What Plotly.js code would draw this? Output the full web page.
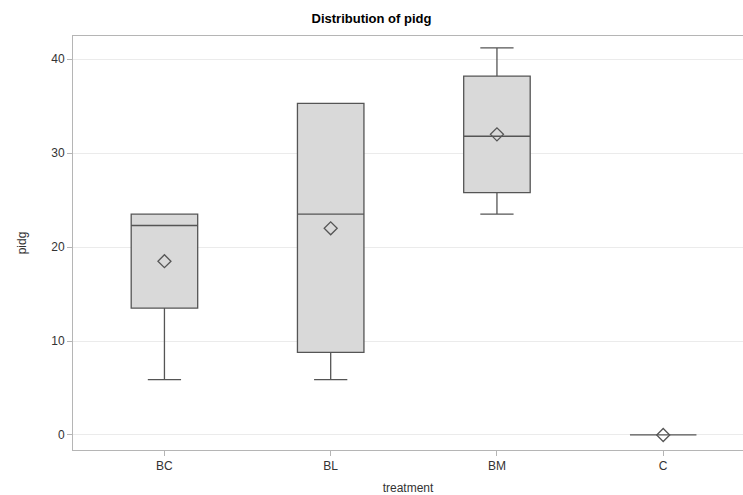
<!DOCTYPE html>
<html><head><meta charset="utf-8">
<script src="https://cdn.plot.ly/plotly-3.0.1.min.js"></script>
<style>html,body{margin:0;padding:0;background:#fff}#chart{width:743px;height:495px}</style>
</head><body><div id="chart"></div>
<script>
var categories = ["BC", "BL", "BM", "C"];
var lowerWhisker = [5.9, 5.9, 23.5, 0];
var q1Values = [13.5, 8.8, 25.8, 0];
var medianValues = [22.3, 23.5, 31.8, 0];
var q3Values = [23.5, 35.3, 38.2, 0];
var upperWhisker = [23.5, 35.3, 41.2, 0];
var meanValues = [18.5, 22.0, 32.0, 0];
var yTicks = [0, 10, 20, 30, 40];

var boxTrace = {
  type: "box",
  x: categories,
  q1: q1Values,
  median: medianValues,
  q3: q3Values,
  lowerfence: lowerWhisker,
  upperfence: upperWhisker,
  width: 0.4,
  whiskerwidth: 0.5,
  fillcolor: "#d9d9d9",
  line: {color: "#555555", width: 1.3},
  boxpoints: false,
  hoverinfo: "skip",
  showlegend: false
};
var meanTrace = {
  type: "scatter",
  mode: "markers",
  x: categories,
  y: meanValues,
  marker: {symbol: "diamond-open", size: 10, color: "#555555", line: {width: 1.3, color: "#555555"}},
  hoverinfo: "skip",
  showlegend: false
};
var layout = {
  width: 743, height: 495,
  margin: {l: 73, r: 0, t: 36, b: 45},
  paper_bgcolor: "#fff", plot_bgcolor: "#fff",
  font: {family: "Liberation Sans, Arial, sans-serif", size: 12, color: "#333"},
  title: {text: "<b>Distribution of pidg</b>", x: 0.5, xanchor: "center", y: 0.962, yanchor: "middle",
          font: {size: 13, color: "#000", family: "Liberation Sans, Arial, sans-serif"}},
  xaxis: {
    type: "category", range: [-0.55, 3.48],
    showline: true, mirror: true, linecolor: "#b5b5b5", linewidth: 1,
    ticks: "outside", ticklen: 5, tickcolor: "#b5b5b5",
    showgrid: false, zeroline: false,
    tickfont: {size: 12, color: "#333"},
    title: {text: "treatment", standoff: 12, font: {size: 12, color: "#333"}}
  },
  yaxis: {
    range: [-1.6, 42.47], tickvals: yTicks, ticktext: yTicks.map(String),
    showline: true, mirror: true, linecolor: "#b5b5b5", linewidth: 1,
    ticks: "outside", ticklen: 5, tickcolor: "#b5b5b5",
    showgrid: true, gridcolor: "#ebebeb", zeroline: false,
    tickfont: {size: 12, color: "#333"},
    title: {text: "pidg", standoff: 22, font: {size: 12, color: "#333"}}
  }
};
Plotly.newPlot("chart", [boxTrace, meanTrace], layout, {staticPlot: true});
</script></body></html>
